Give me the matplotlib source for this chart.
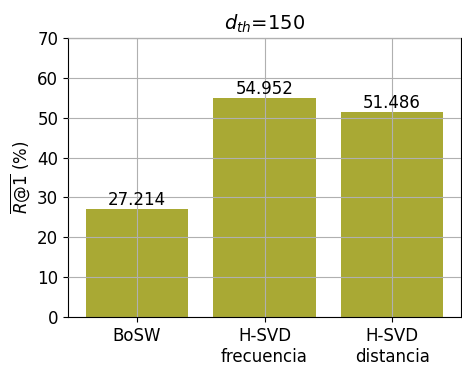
import matplotlib
matplotlib.use('Agg')
import matplotlib.pyplot as plt

# Data
methods = ['BoSW', 'H-SVD\nfrecuencia', 'H-SVD\ndistancia']
recall = [27.214, 54.952, 51.486]

fig = plt.figure(figsize=(4.62, 3.67), dpi=100)
ax = fig.add_axes([68/462, 1 - 317/367, 393/462, 279/367])

bars = ax.bar(methods, recall, color='#a9a934', width=0.8)
for b, v in zip(bars, recall):
    ax.text(b.get_x() + b.get_width() / 2, v, f'{v:.3f}', ha='center', va='bottom', fontsize=12)

ax.set_ylim(0, 70)
ax.set_yticks(range(0, 71, 10))
ax.grid(True, color='#b0b0b0')
ax.set_axisbelow(False)
ax.tick_params(labelsize=12)
ax.set_ylabel(r'$\overline{R@1}$ (%)', fontsize=12)
ax.set_title(r'$d_{th}$=150', fontsize=14)

fig.savefig('out.png', dpi=100)
